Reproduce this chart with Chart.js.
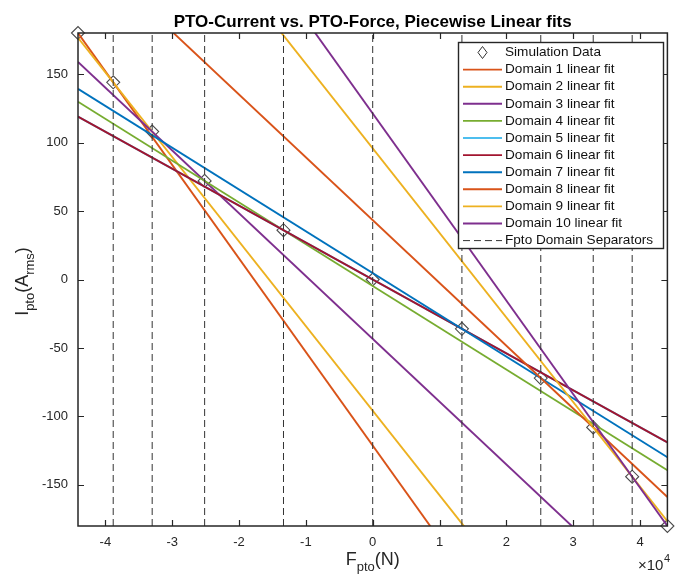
<!DOCTYPE html>
<html><head><meta charset="utf-8">
<script src="https://cdn.jsdelivr.net/npm/chart.js@4/dist/chart.umd.min.js"></script>
<style>html,body{margin:0;padding:0;background:#fff;}#wrap{width:675px;height:579px;position:relative;}</style>
</head><body><div id="wrap"><canvas id="c" width="675" height="579"></canvas></div>
<script>
// ---- data ----
const forceN   = [-44100, -38830, -33000, -25150, -13350, 0, 13350, 25150, 33000, 38830, 44100];
const currentA = [180, 144, 108, 72, 36, 0, -36, -72, -108, -144, -180];
const separators = [-38830, -33000, -25150, -13350, 0, 13350, 25150, 33000, 38830];
const domainNames = ["Domain 1 linear fit","Domain 2 linear fit","Domain 3 linear fit","Domain 4 linear fit","Domain 5 linear fit","Domain 6 linear fit","Domain 7 linear fit","Domain 8 linear fit","Domain 9 linear fit","Domain 10 linear fit"];
const domainColors = ["#D95319","#EDB120","#7E2F8E","#77AC30","#4DBEEE","#A2142F","#0072BD","#D95319","#EDB120","#7E2F8E"];
const xTicks = [-40000,-30000,-20000,-10000,0,10000,20000,30000,40000];
const yTicks = [-150,-100,-50,0,50,100,150];
const xLim = [-44100, 44100];
const yLim = [-180, 180];

const FONT = "'Liberation Sans', Arial, Helvetica, sans-serif";
const AXC = "#262626";

const datasets = [];
datasets.push({
  label: "Simulation Data",
  data: forceN.map((x,i)=>({x, y: currentA[i]})),
  showLine: false,
  pointStyle: "rectRot",
  pointRadius: 6.5,
  pointBorderWidth: 1.1,
  pointBorderColor: "#4a4a4a",
  pointBackgroundColor: "rgba(0,0,0,0)",
  clip: false,
  order: 100
});
// each domain fit goes through consecutive simulation points, extended over the axis range
domainNames.forEach((name, i) => {
  const x0 = forceN[i], x1 = forceN[i+1], y0 = currentA[i], y1 = currentA[i+1];
  const m = (y1 - y0) / (x1 - x0);
  datasets.push({
    label: name,
    data: [{x: xLim[0], y: y0 + m*(xLim[0]-x0)}, {x: xLim[1], y: y0 + m*(xLim[1]-x0)}],
    showLine: true,
    borderColor: domainColors[i],
    borderWidth: 1.9,
    pointRadius: 0,
    clip: 0,
    order: 50 - i
  });
});
separators.forEach((s, i) => {
  datasets.push({
    label: i === 0 ? "Fpto Domain Separators" : "",
    data: [{x: s, y: yLim[0]}, {x: s, y: yLim[1]}],
    showLine: true,
    borderColor: "#333333",
    borderWidth: 1,
    borderDash: [7, 4],
    pointRadius: 0,
    clip: 0,
    order: 1
  });
});

const decor = {
  id: "decor",
  afterDraw(chart) {
    const ctx = chart.ctx, a = chart.chartArea;
    const xs = chart.scales.x, ys = chart.scales.y;
    ctx.save();
    ctx.strokeStyle = AXC; ctx.lineWidth = 1.2;
    const TL = 6;
    ctx.beginPath();
    xTicks.forEach(v => {
      const px = Math.round(xs.getPixelForValue(v)) + 0.5;
      ctx.moveTo(px, a.bottom); ctx.lineTo(px, a.bottom - TL);
      ctx.moveTo(px, a.top); ctx.lineTo(px, a.top + TL);
    });
    yTicks.forEach(v => {
      const py = Math.round(ys.getPixelForValue(v)) + 0.5;
      ctx.moveTo(a.left, py); ctx.lineTo(a.left + TL, py);
      ctx.moveTo(a.right, py); ctx.lineTo(a.right - TL, py);
    });
    ctx.stroke();
    ctx.lineWidth = 1.5;
    ctx.strokeRect(a.left, a.top, a.right - a.left, a.bottom - a.top);

    ctx.fillStyle = "#000";
    ctx.font = "bold 17px " + FONT;
    ctx.textAlign = "center"; ctx.textBaseline = "alphabetic";
    ctx.fillText("PTO-Current vs. PTO-Force, Piecewise Linear fits", (a.left + a.right)/2, 27);

    function rich(parts, cx, cy) {
      let w = 0;
      parts.forEach(p => { ctx.font = p.f; p.w = ctx.measureText(p.t).width; w += p.w; });
      let x = cx - w/2;
      ctx.textAlign = "left"; ctx.textBaseline = "alphabetic";
      parts.forEach(p => { ctx.font = p.f; ctx.fillText(p.t, x, cy + (p.dy || 0)); x += p.w; });
    }
    ctx.fillStyle = AXC;
    const big = "18px " + FONT, sub = "13px " + FONT;
    rich([{t:"F", f:big},{t:"pto", f:sub, dy:6},{t:"(N)", f:big}], (a.left + a.right)/2, 565);
    ctx.save();
    ctx.translate(28, (a.top + a.bottom)/2 + 2);
    ctx.rotate(-Math.PI/2);
    rich([{t:"I", f:big},{t:"pto", f:sub, dy:6},{t:"(A", f:big},{t:"rms", f:sub, dy:6},{t:")", f:big}], 0, 0);
    ctx.restore();
    ctx.font = "15px " + FONT; ctx.textAlign = "left";
    ctx.fillText("\u00d710", 638, 570);
    ctx.font = "11px " + FONT;
    ctx.fillText("4", 664, 562);

    // legend
    const L = {x: 458.5, y: 42.5, w: 205, h: 206};
    ctx.fillStyle = "#fff";
    ctx.fillRect(L.x, L.y, L.w, L.h);
    ctx.strokeStyle = "#262626"; ctx.lineWidth = 1.4;
    ctx.strokeRect(L.x, L.y, L.w, L.h);
    const rowY0 = 52.5, dy = 17.1, lx0 = 463, lx1 = 502, tx = 505;
    ctx.font = "13.6px " + FONT; ctx.textBaseline = "middle"; ctx.textAlign = "left";
    const items = [{t:"Simulation Data", type:"marker"}]
      .concat(domainNames.map((n,i)=>({t:n, type:"line", c:domainColors[i]})))
      .concat([{t:"Fpto Domain Separators", type:"dash"}]);
    items.forEach((it, i) => {
      const y = rowY0 + i*dy;
      if (it.type === "marker") {
        const cx = (lx0+lx1)/2, r = 6;
        ctx.strokeStyle = "#333"; ctx.lineWidth = 1; ctx.setLineDash([]);
        ctx.beginPath(); ctx.moveTo(cx, y-r); ctx.lineTo(cx+r*0.75, y); ctx.lineTo(cx, y+r); ctx.lineTo(cx-r*0.75, y); ctx.closePath(); ctx.stroke();
      } else if (it.type === "line") {
        ctx.strokeStyle = it.c; ctx.lineWidth = 1.9; ctx.setLineDash([]);
        ctx.beginPath(); ctx.moveTo(lx0, y); ctx.lineTo(lx1, y); ctx.stroke();
      } else {
        ctx.strokeStyle = "#333"; ctx.lineWidth = 1; ctx.setLineDash([7,4]);
        ctx.beginPath(); ctx.moveTo(lx0, y); ctx.lineTo(lx1, y); ctx.stroke(); ctx.setLineDash([]);
      }
      ctx.fillStyle = "#111";
      ctx.fillText(it.t, tx, y);
    });
    ctx.restore();
  }
};

new Chart(document.getElementById("c"), {
  type: "scatter",
  data: { datasets },
  options: {
    responsive: false,
    animation: false,
    devicePixelRatio: 1,
    layout: { padding: { top: 33, right: 2, left: 0, bottom: 0 } },
    plugins: { legend: { display: false }, tooltip: { enabled: false }, title: { display: false } },
    scales: {
      x: {
        type: "linear", min: xLim[0], max: xLim[1],
        afterBuildTicks: s => { s.ticks = xTicks.map(v => ({value: v})); },
        afterFit: s => { s.height = 579 - 526; },
        grid: { display: false, drawTicks: false },
        border: { display: false },
        ticks: { callback: v => String(v / 10000), color: AXC, font: { family: FONT, size: 13 }, padding: 9, maxRotation: 0, autoSkip: false }
      },
      y: {
        type: "linear", min: yLim[0], max: yLim[1],
        afterBuildTicks: s => { s.ticks = yTicks.map(v => ({value: v})); },
        afterFit: s => { s.width = 78; },
        grid: { display: false, drawTicks: false },
        border: { display: false },
        ticks: { color: AXC, font: { family: FONT, size: 13 }, padding: 10, autoSkip: false }
      }
    }
  },
  plugins: [decor]
});
</script>
</body></html>
